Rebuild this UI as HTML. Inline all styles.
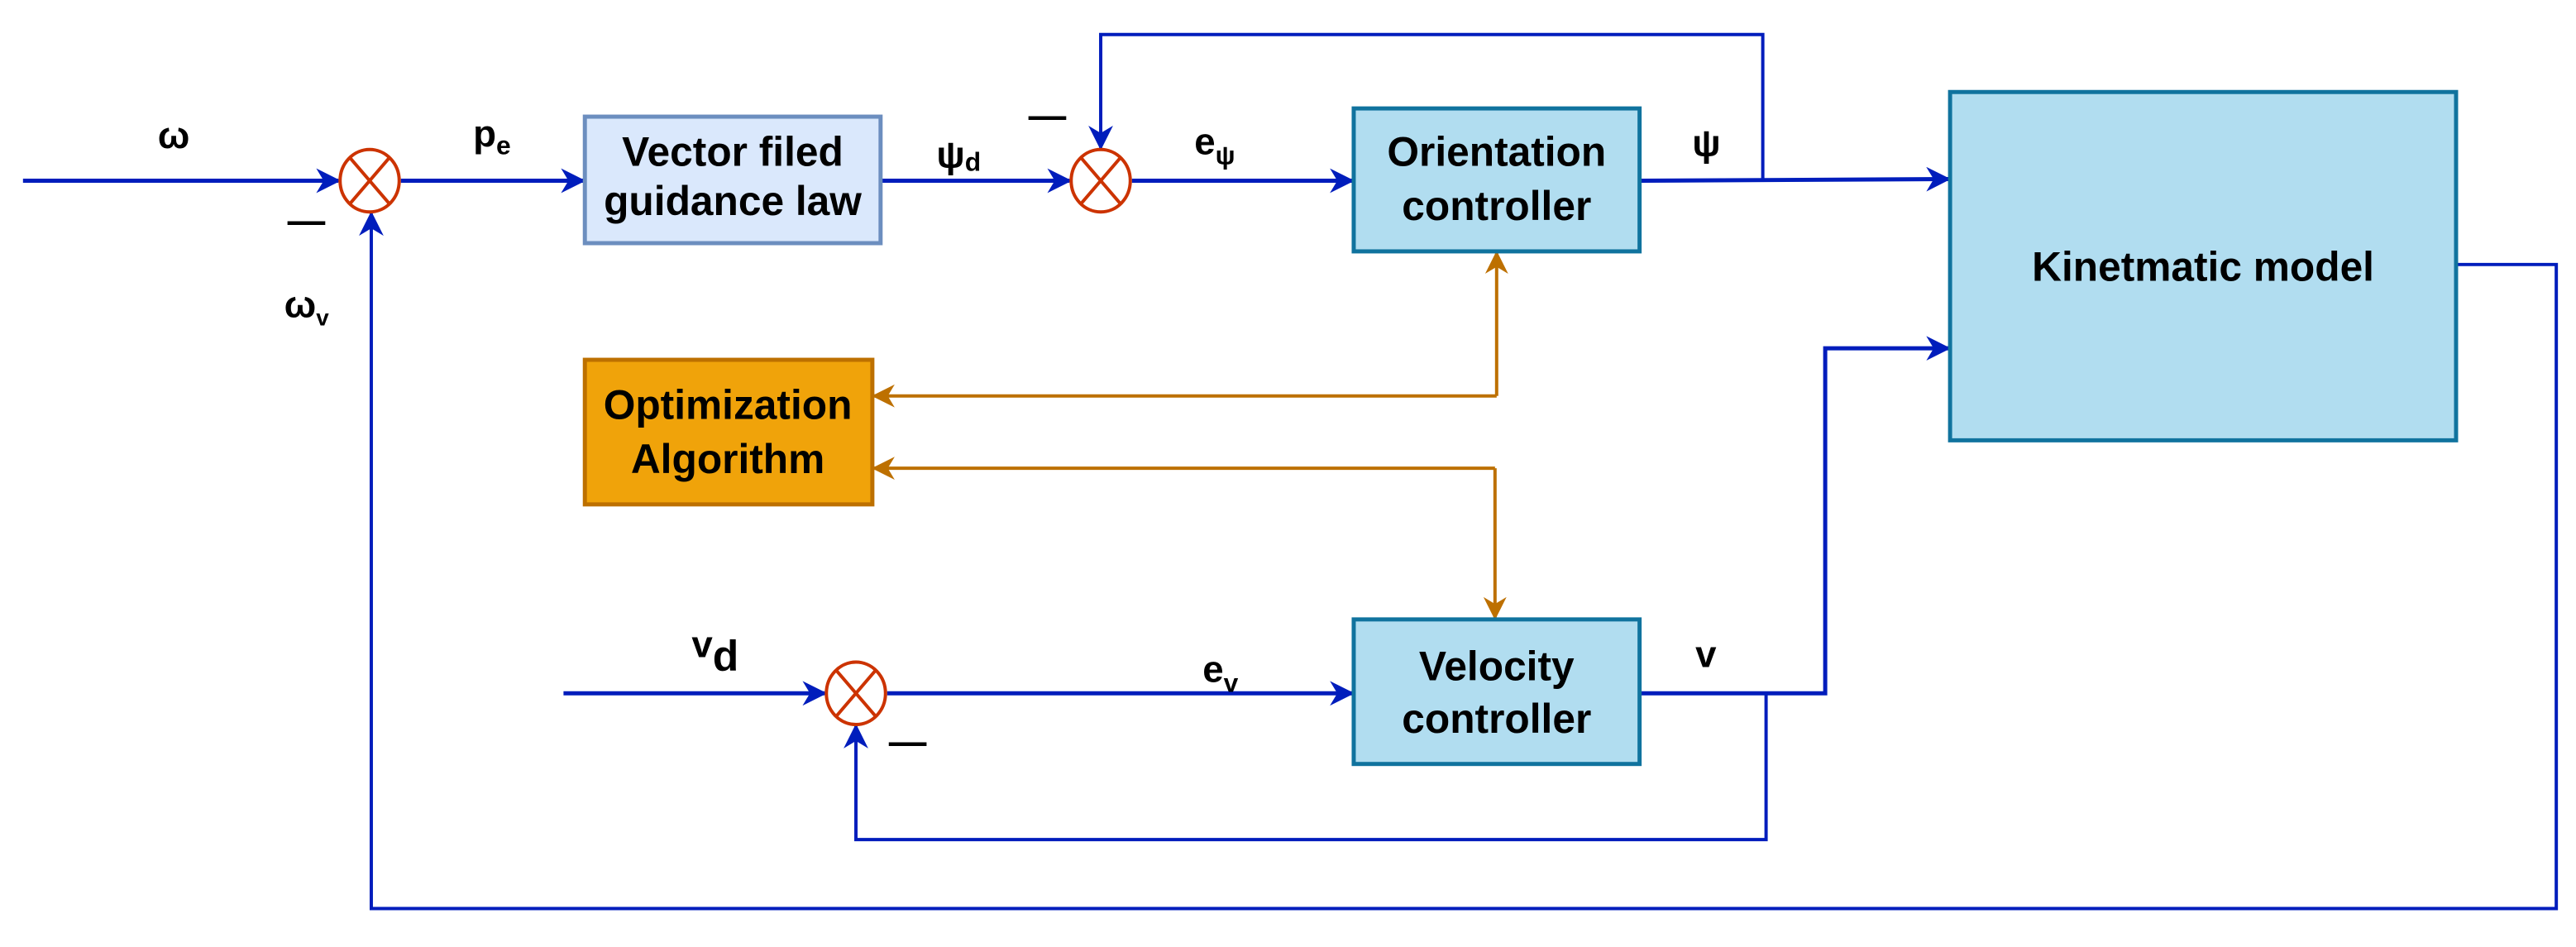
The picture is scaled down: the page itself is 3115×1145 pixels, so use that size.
<!DOCTYPE html>
<html><head><meta charset="utf-8"><style>
html,body{margin:0;padding:0;background:#fff;}
svg{display:block;}
text{font-family:"Liberation Sans","DejaVu Sans",sans-serif;font-weight:bold;fill:#000;}
</style></head><body>
<svg width="3115" height="1145" viewBox="0 0 1568 576.4" preserveAspectRatio="none" xmlns="http://www.w3.org/2000/svg">
<defs>
<marker id="ab2" viewBox="0 0 10 10" refX="9" refY="5" markerWidth="15" markerHeight="15" markerUnits="userSpaceOnUse" orient="auto"><path d="M0,0 L10,5 L0,10 L3,5 Z" fill="#001DBC"/></marker>
<marker id="ao" viewBox="0 0 10 10" refX="9" refY="5" markerWidth="14" markerHeight="14" markerUnits="userSpaceOnUse" orient="auto"><path d="M0,0 L10,5 L0,10 L3,5 Z" fill="#BD7000"/></marker>
</defs>
<g fill="none" stroke="#001DBC">
<line x1="14" y1="110" x2="206" y2="110" stroke-width="2.5" marker-end="url(#ab2)"/>
<line x1="244" y1="110" x2="355" y2="110" stroke-width="2.5" marker-end="url(#ab2)"/>
<line x1="537" y1="110" x2="651" y2="110" stroke-width="2.5" marker-end="url(#ab2)"/>
<line x1="689" y1="110" x2="823" y2="110" stroke-width="2.5" marker-end="url(#ab2)"/>
<line x1="999" y1="110" x2="1186" y2="109" stroke-width="2.5" marker-end="url(#ab2)"/>
<polyline points="1073,110 1073,21 670,21 670,90" stroke-width="2" marker-end="url(#ab2)"/>
<line x1="343" y1="422" x2="502" y2="422" stroke-width="2.5" marker-end="url(#ab2)"/>
<line x1="540" y1="422" x2="823" y2="422" stroke-width="2.5" marker-end="url(#ab2)"/>
<polyline points="999,422 1111,422 1111,212 1186,212" stroke-width="2.5" marker-end="url(#ab2)"/>
<polyline points="1075,422 1075,511 521,511 521,442" stroke-width="2" marker-end="url(#ab2)"/>
<polyline points="1496,161 1556,161 1556,553 226,553 226,130" stroke-width="2" marker-end="url(#ab2)"/>
</g>
<g fill="none" stroke="#BD7000" stroke-width="2">
<polyline points="911,241 532,241" marker-end="url(#ao)"/>
<polyline points="911,241 911,154" marker-end="url(#ao)"/>
<polyline points="910,285 532,285" marker-end="url(#ao)"/>
<polyline points="910,285 910,376" marker-end="url(#ao)"/>
</g>
<g stroke="#CC3300" stroke-width="2" fill="#fff">
<ellipse cx="225" cy="110" rx="18" ry="19"/>
<line x1="213" y1="96" x2="237" y2="124"/><line x1="237" y1="96" x2="213" y2="124"/>
<ellipse cx="670" cy="110" rx="18" ry="19"/>
<line x1="658" y1="96" x2="682" y2="124"/><line x1="682" y1="96" x2="658" y2="124"/>
<ellipse cx="521" cy="422" rx="18" ry="19"/>
<line x1="509" y1="408" x2="533" y2="436"/><line x1="533" y1="408" x2="509" y2="436"/>
</g>
<rect x="356" y="71" width="180" height="77" fill="#dae8fc" stroke="#6c8ebf" stroke-width="2.5"/>
<rect x="824" y="66" width="174" height="87" fill="#b1ddf0" stroke="#10739e" stroke-width="2.5"/>
<rect x="1187" y="56" width="308" height="212" fill="#b1ddf0" stroke="#10739e" stroke-width="2.5"/>
<rect x="356" y="219" width="175" height="88" fill="#f0a30a" stroke="#BD7000" stroke-width="2.5"/>
<rect x="824" y="377" width="174" height="88" fill="#b1ddf0" stroke="#10739e" stroke-width="2.5"/>
<g font-size="25" text-anchor="middle">
<text x="446" y="101">Vector filed</text><text x="446" y="131">guidance law</text>
<text x="911" y="101">Orientation</text><text x="911" y="134">controller</text>
<text x="1341" y="171">Kinetmatic model</text>
<text x="443" y="255">Optimization</text><text x="443" y="288">Algorithm</text>
<text x="911" y="414">Velocity</text><text x="911" y="446">controller</text>
</g>
<g font-size="23">
<text x="96" y="90">ω</text>
<text x="288" y="89">p<tspan font-size="16" dy="5">e</tspan></text>
<text x="173" y="193">ω<tspan font-size="14" dy="5">v</tspan></text>
<text x="175" y="142">—</text>
<text x="570" y="102">ψ<tspan font-size="16" dy="2">d</tspan></text>
<text x="626" y="78">—</text>
<text x="727" y="94">e<tspan font-size="16" dy="6">ψ</tspan></text>
<text x="1030" y="95">ψ</text>
<text x="421" y="400">v<tspan font-size="26" dy="8">d</tspan></text>
<text x="732" y="415">e<tspan font-size="16" dy="6">v</tspan></text>
<text x="1032" y="406">v</text>
<text x="541" y="459">—</text>
</g>
</svg>
</body></html>
